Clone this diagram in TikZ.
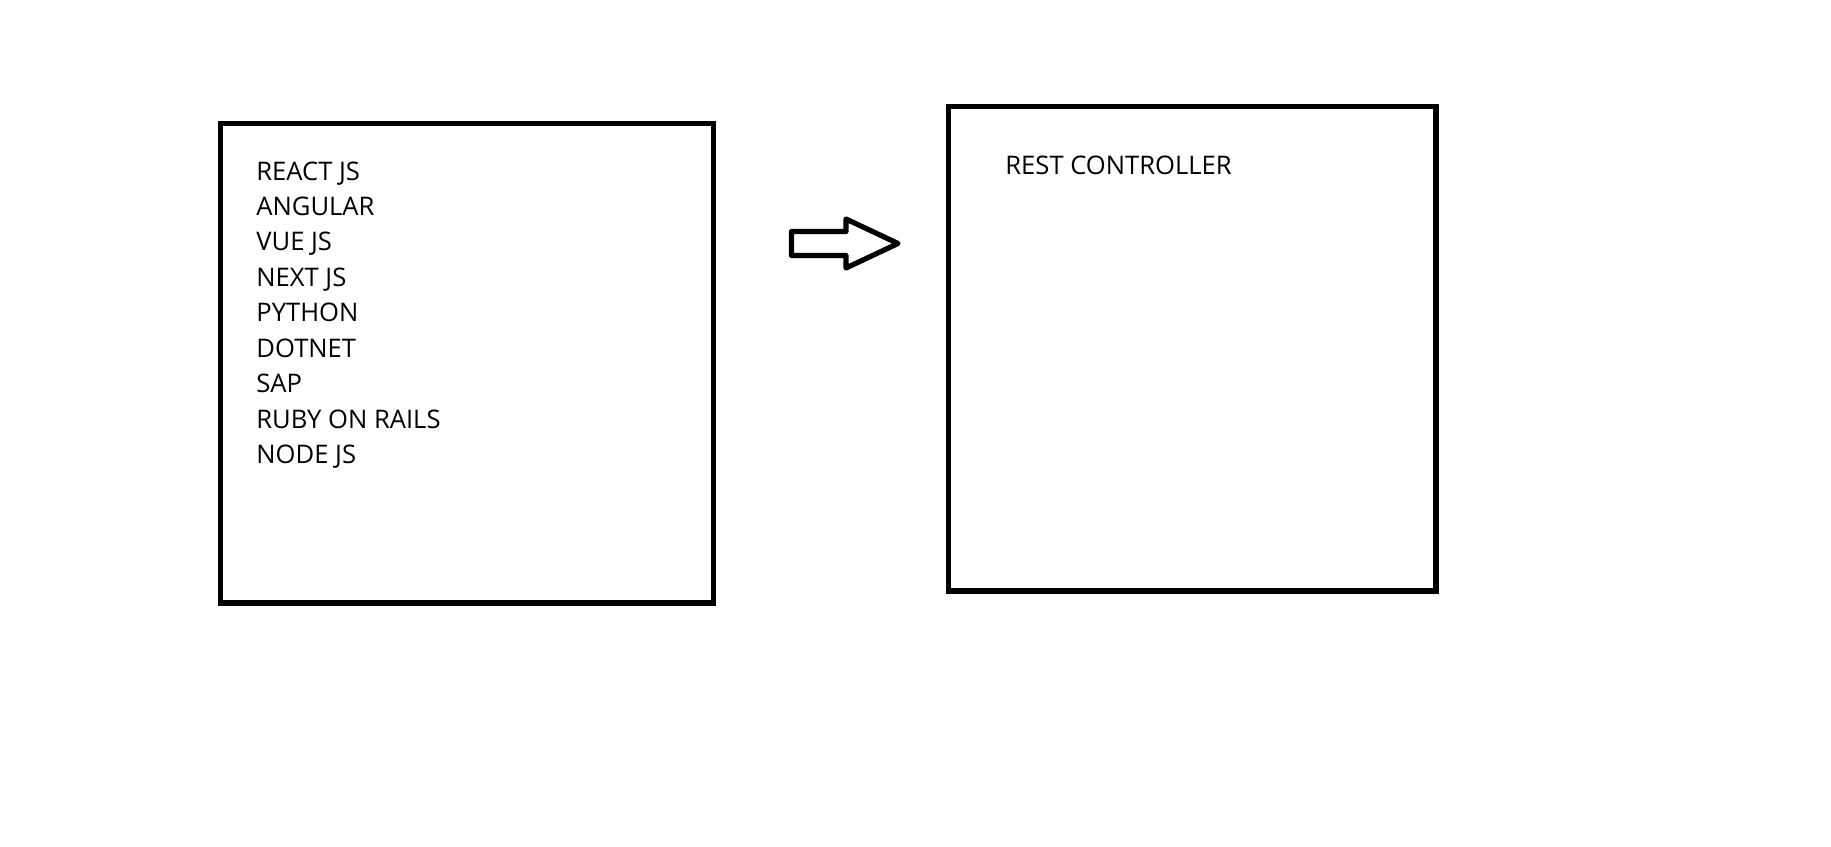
\documentclass[tikz,border=0pt]{standalone}
\usepackage{fontspec}
\setmainfont{Open Sans}
\usetikzlibrary{positioning}

\tikzset{
  panel/.style={draw, line width=2.8pt, inner sep=0pt},
  techlabel/.style={anchor=base west, inner sep=0pt, font=\fontsize{12.8}{16}\selectfont},
}

\begin{document}
\begin{tikzpicture}[x=0.5pt, y=-0.5pt]

     \useasboundingbox (0,0) rectangle (1831,846);

     % boxes
     \node[panel, minimum width=246.5pt, minimum height=239.75pt] (frontend) at (467,363.25) {};
     \node[panel, minimum width=243.85pt, minimum height=242.25pt] (controller) at (1192.15,348.75) {};

     % list of technologies
     \foreach \tech [count=\i] in {REACT JS, ANGULAR, VUE JS, NEXT JS, PYTHON, DOTNET, SAP, RUBY ON RAILS, NODE JS}
       \node[techlabel] (tech\i) at (256,{180+35.46*(\i-1)}) {\tech};

     \node[techlabel] (rest) at (1005,174) {REST CONTROLLER};

     % arrow
     \coordinate (a1) at (791.5,231.5);
     \coordinate (a2) at (846,231.5);
     \coordinate (a3) at (846,219);
     \coordinate (a4) at (898,243.5);
     \coordinate (a5) at (846,268);
     \coordinate (a6) at (846,255.5);
     \coordinate (a7) at (791.5,255.5);
     \draw[line width=2.6pt, line join=round] (a1) -- (a2) -- (a3) -- (a4) -- (a5) -- (a6) -- (a7) -- cycle;

\end{tikzpicture}
\end{document}
